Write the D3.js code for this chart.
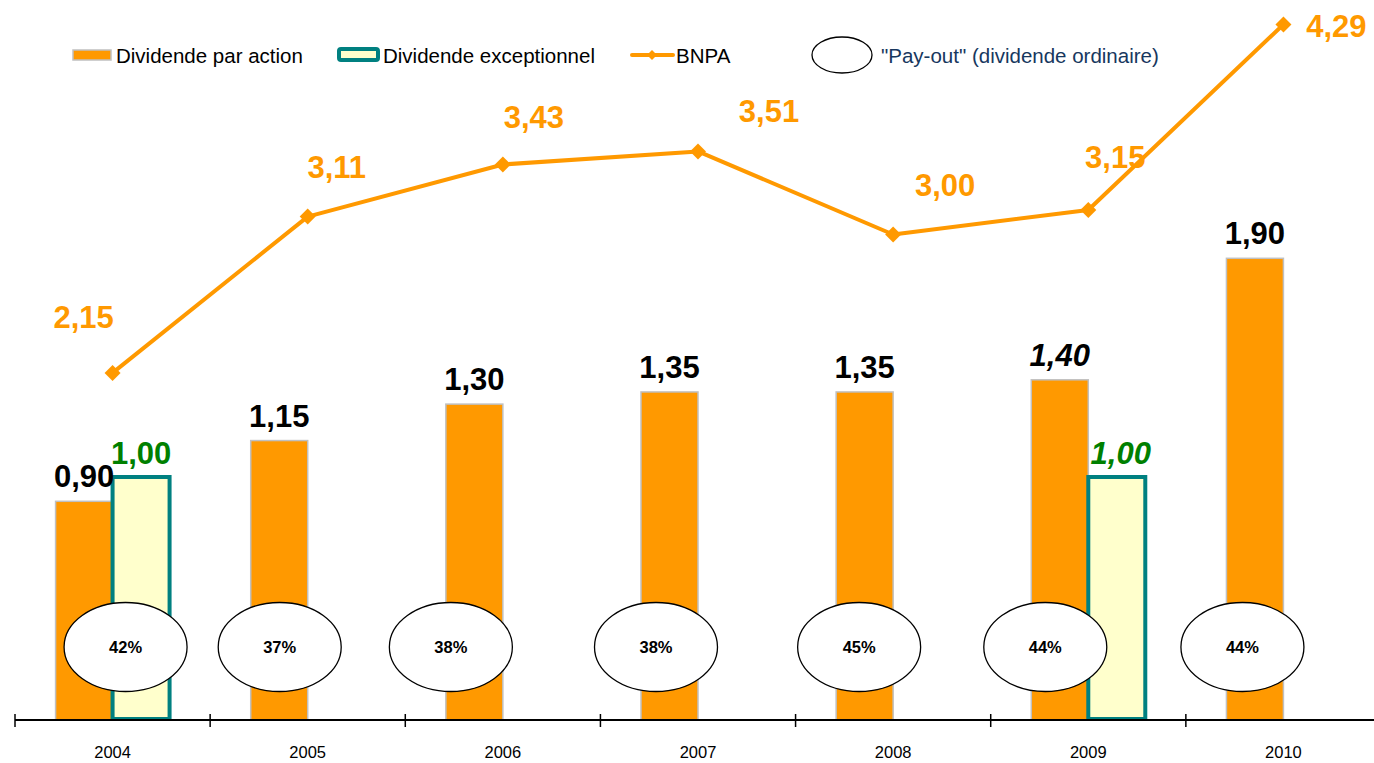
<!DOCTYPE html>
<html>
<head>
<meta charset="utf-8">
<script src="https://cdn.jsdelivr.net/npm/d3@7"></script>
<style>
  html, body { margin: 0; padding: 0; background: #fff; }
  svg { display: block; font-family: "Liberation Sans", Arial, sans-serif; }
</style>
</head>
<body>
<svg id="chart" width="1374" height="763"></svg>
<script>
// ---- data ----
const years = ["2004", "2005", "2006", "2007", "2008", "2009", "2010"];
const dividend = [0.90, 1.15, 1.30, 1.35, 1.35, 1.40, 1.90];
const exceptional = [1.00, 0, 0, 0, 0, 1.00, 0];
const bnpa = [2.15, 3.11, 3.43, 3.51, 3.00, 3.15, 4.29];
const payout = ["42%", "37%", "38%", "38%", "45%", "44%", "44%"];
const legendLabels = ["Dividende par action", "Dividende exceptionnel", "BNPA", "\"Pay-out\" (dividende ordinaire)"];

// ---- layout / style config ----
const italicYears = ["2009"];
const bnpaLabelOffsets = [[-29, -45], [29, -39], [31, -36], [71, -29], [52, -38], [27, -42], [53, 13]];
const ellipseOffsets = [13, -28, -52, -42, -34, -43, -41];
const ORANGE = "#FF9900", TEAL = "#008080", PALE = "#FFFFCC", GREEN = "#008000", GREY = "#C0C0C0";

const fmt = v => v.toFixed(2).replace(".", ",");
const svg = d3.select("#chart");

const x = d3.scaleBand().domain(years).range([15, 1381]).padding(0);
const x1 = d3.scaleBand().domain(["div", "exc"]).range([-57, 57]).padding(0);
const y = d3.scaleLinear().domain([0, 2.963]).range([720, 0]);
const y2 = d3.scaleLinear().domain([0, 4.44]).range([723, 0]);
const cx = d => x(d) + x.bandwidth() / 2;

const rows = years.map((yr, i) => ({yr, i, div: dividend[i], exc: exceptional[i], bnpa: bnpa[i], pay: payout[i]}));

// bars: dividende par action
svg.append("g").selectAll("rect").data(rows).join("rect")
  .attr("x", d => cx(d.yr) + x1("div"))
  .attr("y", d => y(d.div))
  .attr("width", x1.bandwidth())
  .attr("height", d => y(0) - y(d.div))
  .attr("fill", ORANGE).attr("stroke", GREY).attr("stroke-width", 1.5);

// bars: dividende exceptionnel
svg.append("g").selectAll("rect").data(rows.filter(d => d.exc > 0)).join("rect")
  .attr("x", d => cx(d.yr) + x1("exc"))
  .attr("y", d => y(d.exc))
  .attr("width", x1.bandwidth())
  .attr("height", d => y(0) - y(d.exc) - 1)
  .attr("fill", PALE).attr("stroke", TEAL).attr("stroke-width", 4);

// axis
const axisG = svg.append("g");
axisG.append("line").attr("x1", 15).attr("x2", 1374).attr("y1", 720).attr("y2", 720)
  .attr("stroke", "#000").attr("stroke-width", 2);
const bounds = years.map(d => x(d)).concat([x.range()[1]]);
axisG.selectAll("line.tick").data(bounds).join("line").attr("class", "tick")
  .attr("x1", d => d).attr("x2", d => d).attr("y1", 714).attr("y2", 727)
  .attr("stroke", "#000").attr("stroke-width", 1.5);
axisG.selectAll("text").data(years).join("text")
  .attr("x", d => cx(d)).attr("y", 758).attr("text-anchor", "middle")
  .attr("font-size", 16.5).attr("fill", "#000").text(d => d);

// payout ellipses
const pg = svg.append("g");
pg.selectAll("ellipse").data(rows).join("ellipse")
  .attr("cx", d => cx(d.yr) + ellipseOffsets[d.i]).attr("cy", 647)
  .attr("rx", 61.5).attr("ry", 44.5)
  .attr("fill", "#fff").attr("stroke", "#000").attr("stroke-width", 1.3);
pg.selectAll("text").data(rows).join("text")
  .attr("x", d => cx(d.yr) + ellipseOffsets[d.i]).attr("y", 653)
  .attr("text-anchor", "middle").attr("font-size", 16.5).attr("font-weight", "bold")
  .attr("fill", "#000").text(d => d.pay);

// bar labels
svg.append("g").selectAll("text").data(rows).join("text")
  .attr("x", d => cx(d.yr) + x1("div") + x1.bandwidth() / 2)
  .attr("y", d => y(d.div) - 14)
  .attr("text-anchor", "middle").attr("font-size", 31).attr("font-weight", "bold")
  .attr("font-style", d => italicYears.includes(d.yr) ? "italic" : "normal")
  .attr("fill", "#000").text(d => fmt(d.div));
svg.append("g").selectAll("text").data(rows.filter(d => d.exc > 0)).join("text")
  .attr("x", d => cx(d.yr) + x1("exc") + x1.bandwidth() / 2 + (italicYears.includes(d.yr) ? 4 : 0))
  .attr("y", d => y(d.exc) - 13)
  .attr("text-anchor", "middle").attr("font-size", 31).attr("font-weight", "bold")
  .attr("font-style", d => italicYears.includes(d.yr) ? "italic" : "normal")
  .attr("fill", GREEN).text(d => fmt(d.exc));

// BNPA line
const line = d3.line().x(d => cx(d.yr)).y(d => y2(d.bnpa));
svg.append("path").datum(rows).attr("d", line)
  .attr("fill", "none").attr("stroke", ORANGE).attr("stroke-width", 4).attr("stroke-linejoin", "round");
const diamond = "M0,-8L8,0L0,8L-8,0Z";
svg.append("g").selectAll("path").data(rows).join("path")
  .attr("d", diamond).attr("transform", d => `translate(${cx(d.yr)},${y2(d.bnpa)})`)
  .attr("fill", ORANGE);
svg.append("g").selectAll("text").data(rows).join("text")
  .attr("x", d => cx(d.yr) + bnpaLabelOffsets[d.i][0])
  .attr("y", d => y2(d.bnpa) + bnpaLabelOffsets[d.i][1])
  .attr("text-anchor", "middle").attr("font-size", 31).attr("font-weight", "bold")
  .attr("fill", ORANGE).text(d => fmt(d.bnpa));

// legend
const lg = svg.append("g");
lg.append("rect").attr("x", 73).attr("y", 50).attr("width", 38).attr("height", 10)
  .attr("fill", ORANGE).attr("stroke", GREY).attr("stroke-width", 1.5);
lg.append("text").attr("x", 116).attr("y", 63).attr("font-size", 20.5).attr("fill", "#000").text(legendLabels[0]);
lg.append("rect").attr("x", 339).attr("y", 49).attr("width", 39).attr("height", 11).attr("rx", 2)
  .attr("fill", PALE).attr("stroke", TEAL).attr("stroke-width", 4);
lg.append("text").attr("x", 383).attr("y", 63).attr("font-size", 20.5).attr("fill", "#000").text(legendLabels[1]);
lg.append("line").attr("x1", 632).attr("x2", 673).attr("y1", 55).attr("y2", 55)
  .attr("stroke", ORANGE).attr("stroke-width", 4).attr("stroke-linecap", "round");
lg.append("path").attr("d", "M0,-5L5,0L0,5L-5,0Z").attr("transform", "translate(652,55)").attr("fill", ORANGE);
lg.append("text").attr("x", 676).attr("y", 63).attr("font-size", 20.5).attr("fill", "#000").text(legendLabels[2]);
lg.append("ellipse").attr("cx", 842).attr("cy", 55).attr("rx", 30).attr("ry", 18)
  .attr("fill", "#fff").attr("stroke", "#000").attr("stroke-width", 1.3);
lg.append("text").attr("x", 881).attr("y", 63).attr("font-size", 20.5).attr("fill", "#17375E").text(legendLabels[3]);
</script>
</body>
</html>
